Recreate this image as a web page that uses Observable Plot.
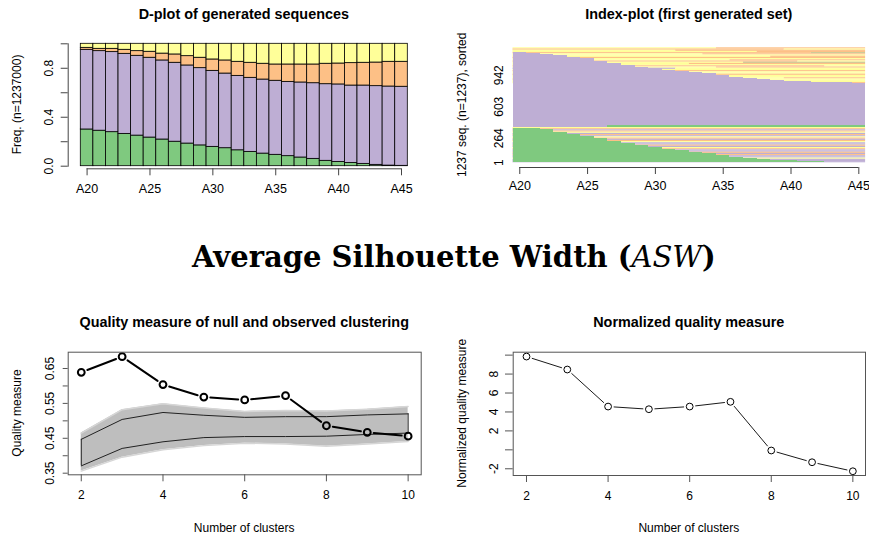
<!DOCTYPE html>
<html><head><meta charset="utf-8">
<script src="https://cdn.jsdelivr.net/npm/d3@7"></script>
<script src="https://cdn.jsdelivr.net/npm/@observablehq/plot@0.6"></script>
<style>
body{margin:0;background:#fff;}
#wrap{position:relative;width:869px;height:538px;overflow:hidden;font-family:"Liberation Sans",Arial,sans-serif;}
#wrap > svg{position:absolute;}
</style></head><body><div id="wrap"></div>
<script>
// ---------- shared ----------
const states = ["A20","A21","A22","A23","A24","A25","A26","A27","A28","A29","A30","A31","A32","A33","A34","A35","A36","A37","A38","A39","A40","A41","A42","A43","A44","A45"];
const tickStates = ["A20","A25","A30","A35","A40","A45"];
const stateColors = {G:"#7FC97F", P:"#BEAED4", O:"#FDC086", Y:"#FFFF99", M:"#C9C58F"};

// ---------- D-plot (state shares per position) ----------
const dGreen  = [0.300,0.290,0.278,0.264,0.250,0.234,0.218,0.200,0.185,0.170,0.158,0.147,0.130,0.117,0.103,0.093,0.082,0.071,0.060,0.044,0.035,0.027,0.019,0.011,0.005,0.003];
const dPurple = [0.651,0.650,0.654,0.654,0.652,0.652,0.646,0.645,0.638,0.631,0.621,0.610,0.608,0.605,0.605,0.605,0.607,0.613,0.618,0.626,0.633,0.632,0.640,0.643,0.646,0.646];
const dOrange = [0.016,0.019,0.027,0.033,0.038,0.049,0.056,0.068,0.076,0.085,0.093,0.107,0.115,0.123,0.129,0.133,0.142,0.147,0.153,0.167,0.171,0.183,0.186,0.193,0.202,0.204];
const dYellow = [0.033,0.041,0.041,0.049,0.060,0.065,0.080,0.087,0.101,0.114,0.128,0.136,0.147,0.155,0.163,0.169,0.169,0.169,0.169,0.163,0.161,0.158,0.155,0.153,0.147,0.147];
const dTicks = [0,0.2,0.4,0.6,0.8,1];
const dTickLabels = ["0.0","","0.4","","0.8",""];

// ---------- Index plot (sorted sequences, counts out of 1237) ----------
const idxTotal = 1237;
const idxTicks = [1,264,603,942];
const idxGreenTop    = [372,366,355,330,304,283,259,230,204,183,165,143,128,112,96,79,61,51,36,28,21,15,11,7,4,4];
const idxPurpleTop   = [1190,1180,1165,1154,1137,1118,1094,1072,1050,1029,1011,997,982,975,957,939,922,907,893,886,878,871,867,865,861,857];
const idxPurpleBottom= [376,376,376,376,376,376,376,400,400,400,400,400,400,400,400,400,400,400,400,400,400,400,400,400,400,400];
const idxLowerMixTop = 380;
const idxUpperMixBottom = 850;
// upper mixed rows (top -> bottom): state before / after the position index where it changes
const idxUpperEarly  = ["Y","O","Y","Y","O","Y","Y","Y","O","Y","Y","O","Y","Y","Y","O","Y","P","Y","O","Y","Y","O","Y","Y","Y","O","Y","Y","Y"];
const idxUpperLate   = ["O","Y","O","O","M","O","Y","O","O","Y","O","Y","M","O","Y","Y","O","Y","Y","O","Y","Y","O","Y","Y","O","Y","Y","Y","O"];
const idxUpperSwitch = [15,20,12,18,22,14,26,19,26,26,16,21,17,13,26,23,15,12,26,26,26,26,26,26,26,20,18,26,26,24];
// lower mixed rows (top -> bottom)
const idxLower       = ["Y","O","P","O","Y","P","O","P","Y","O","P","O","Y","P","P","O","P","Y","O","P","P","O","P","O","P","P","Y","P","P","P"];

// ---------- Quality measures ----------
const clusters = [2,3,4,5,6,7,8,9,10];
const obsASW   = [0.639,0.684,0.604,0.568,0.560,0.572,0.486,0.467,0.456];
const nullHi   = [0.447,0.504,0.524,0.516,0.510,0.512,0.512,0.517,0.520];
const nullLo   = [0.371,0.421,0.440,0.452,0.455,0.455,0.456,0.461,0.465];
const nullMax  = [0.465,0.532,0.549,0.537,0.527,0.530,0.528,0.533,0.541];
const nullMin  = [0.356,0.396,0.417,0.429,0.436,0.434,0.427,0.434,0.441];
const qTicks = [0.35,0.40,0.45,0.50,0.55,0.60,0.65];
const qTickLabels = ["0.35","","0.45","","0.55","","0.65"];
const normASW  = [9.85,8.48,4.57,4.29,4.57,5.07,-0.07,-1.31,-2.26];
const nTicks = [-2,0,2,4,6,8,10];
const nTickLabels = ["-2","","2","4","6","8",""];
const xTicks = [2,4,6,8,10];

const wrap = document.getElementById("wrap");
const FONT = "Liberation Sans, Arial, sans-serif";
const baseStyle = {fontFamily: FONT, fontSize: "12px", background: "transparent", color: "#000", overflow: "visible"};
function place(svg, left, top){ svg.style.left = left+"px"; svg.style.top = top+"px"; wrap.appendChild(svg); }

// ---------- Panel 1: D-plot ----------
const dRows = [];
states.forEach((s,i)=>{
  let c = 0;
  [["G",dGreen],["P",dPurple],["O",dOrange],["Y",dYellow]].forEach(([k,arr])=>{
    dRows.push({i, k, y1:c, y2:c+arr[i]}); c += arr[i];
  });
});
const tickIdx = tickStates.map(s=>states.indexOf(s)+0.5);
const p1 = Plot.plot({
  width: 440, height: 210,
  marginLeft: 67.7, marginRight: 32.7, marginTop: 43.3, marginBottom: 44.3,
  x: {domain: [0, states.length], insetLeft: 12.6, axis: null},
  y: {domain: [0, 1], axis: null},
  style: baseStyle,
  marks: [
    Plot.rect(dRows, {x1: "i", x2: d=>d.i+1, y1: "y1", y2: "y2", fill: d=>stateColors[d.k], stroke: "#000", strokeWidth: 0.8}),
    Plot.frame({anchor: "left", stroke: "#444"}),
    Plot.axisY({ticks: dTicks, tickFormat: d=>dTickLabels[dTicks.indexOf(d)], tickSize: 7, tickRotate: -90, tickPadding: 8, stroke: "#444", fill: "#000", label: null}),
    Plot.ruleY([0], {x1: tickIdx[0], x2: tickIdx[tickIdx.length-1], dy: 2.6, stroke: "#444"}),
    Plot.axisX({ticks: tickIdx, tickFormat: d=>states[d-0.5], tickSize: 7, dy: 2.6, tickPadding: 8, stroke: "#444", fill: "#000", fontSize: 12.5, label: null})
  ]
});
place(p1, 0, 0);

// ---------- Panel 2: Index plot ----------
const nPos = states.length;
const bandRows = [];
const hU = (idxTotal - idxUpperMixBottom)/idxUpperEarly.length;
const hL = idxLowerMixTop/idxLower.length;
idxUpperEarly.forEach((k,b)=>{
  const sw = idxUpperSwitch[b];
  const y1 = idxTotal-(b+1)*hU, y2 = idxTotal-b*hU;
  bandRows.push({x1: 0, x2: sw, k, y1, y2});
  if (sw < nPos) bandRows.push({x1: sw, x2: nPos, k: idxUpperLate[b], y1, y2});
});
idxLower.forEach((k,b)=>bandRows.push({x1: 0, x2: nPos, k, y1: idxLowerMixTop-(b+1)*hL, y2: idxLowerMixTop-b*hL}));
const blockRows = [];
states.forEach((s,i)=>{
  blockRows.push({i, k:"G", y1:0, y2:idxGreenTop[i]});
  if (idxPurpleBottom[i] > idxLowerMixTop) blockRows.push({i, k:"G", y1:idxLowerMixTop, y2:idxPurpleBottom[i]});
  blockRows.push({i, k:"P", y1:idxPurpleBottom[i], y2:idxPurpleTop[i]});
});
const p2 = Plot.plot({
  width: 429, height: 210,
  marginLeft: 72.5, marginRight: 3.9, marginTop: 47.3, marginBottom: 47.7,
  x: {domain: [0, nPos], axis: null},
  y: {domain: [0, idxTotal], axis: null},
  style: baseStyle,
  marks: [
    Plot.rect(bandRows, {x1: "x1", x2: "x2", y1: "y1", y2: "y2", fill: d=>stateColors[d.k]}),
    Plot.rect(blockRows, {x1: "i", x2: d=>d.i+1, y1: "y1", y2: "y2", fill: d=>stateColors[d.k], shapeRendering: "crispEdges"}),
    Plot.axisY({ticks: idxTicks, tickFormat: d=>String(d), tickSize: 0, tickRotate: -90, tickPadding: 10, fill: "#000", label: null}),
    Plot.ruleY([0], {x1: tickIdx[0], x2: tickIdx[tickIdx.length-1], dy: 4.7, stroke: "#444"}),
    Plot.axisX({ticks: tickIdx, tickFormat: d=>states[d-0.5], tickSize: 7, dy: 4.7, tickPadding: 7, stroke: "#444", fill: "#000", fontSize: 12.5, label: null})
  ]
});
place(p2, 440, 0);

// ---------- Panel 3: Quality measure ----------
const qRows = clusters.map((c,i)=>({c, obs: obsASW[i], hi: nullHi[i], lo: nullLo[i], mx: nullMax[i], mn: nullMin[i]}));
const qSegs = clusters.slice(1).map((c,i)=>({x1: clusters[i], y1: obsASW[i], x2: c, y2: obsASW[i+1]}));
const p3 = Plot.plot({
  width: 440, height: 238,
  marginLeft: 67.7, marginRight: 19.3, marginTop: 51.7, marginBottom: 63.7,
  x: {domain: [1.68, 10.32], axis: null},
  y: {domain: [0.3454, 0.6967], axis: null},
  style: baseStyle,
  marks: [
    Plot.areaY(qRows, {x: "c", y1: "mn", y2: "mx", fill: "#BEBEBE"}),
    Plot.line(qRows, {x: "c", y: "mx", stroke: "#D6D6D6", strokeWidth: 1.5}),
    Plot.line(qRows, {x: "c", y: "mn", stroke: "#D6D6D6", strokeWidth: 1.5}),
    Plot.line(qRows, {x: "c", y: "hi", stroke: "#222", strokeWidth: 1}),
    Plot.line(qRows, {x: "c", y: "lo", stroke: "#222", strokeWidth: 1}),
    Plot.ruleX(qRows.slice(0,1), {x: "c", y1: "lo", y2: "hi", stroke: "#222", strokeWidth: 1}),
    Plot.ruleX(qRows.slice(-1), {x: "c", y1: "lo", y2: "hi", stroke: "#222", strokeWidth: 1}),
    Plot.arrow(qSegs, {x1: "x1", y1: "y1", x2: "x2", y2: "y2", bend: 0, headLength: 0, insetStart: 6.5, insetEnd: 6.5, stroke: "#000", strokeWidth: 2}),
    Plot.dot(qRows, {x: "c", y: "obs", r: 3.4, stroke: "#000", strokeWidth: 2, fill: "none"}),
    Plot.frame({stroke: "#555"}),
    Plot.axisY({ticks: qTicks, tickFormat: d=>qTickLabels[qTicks.indexOf(d)], tickSize: 5, tickRotate: -90, tickPadding: 9, stroke: "#555", fill: "#000", fontSize: 12, label: null}),
    Plot.axisX({ticks: xTicks, tickFormat: d=>String(d), tickSize: 7, tickPadding: 9, stroke: "#555", fill: "#000", fontSize: 12, label: null})
  ]
});
place(p3, 0, 300);

// ---------- Panel 4: Normalized quality ----------
const nRows = clusters.map((c,i)=>({c, v: normASW[i]}));
const nSegs = clusters.slice(1).map((c,i)=>({x1: clusters[i], y1: normASW[i], x2: c, y2: normASW[i+1]}));
const p4 = Plot.plot({
  width: 429, height: 238,
  marginLeft: 72.7, marginRight: 4, marginTop: 51.7, marginBottom: 63,
  x: {domain: [1.674, 10.31], axis: null},
  y: {domain: [-2.71, 10.31], axis: null},
  style: baseStyle,
  marks: [
    Plot.arrow(nSegs, {x1: "x1", y1: "y1", x2: "x2", y2: "y2", bend: 0, headLength: 0, insetStart: 6, insetEnd: 6, stroke: "#000", strokeWidth: 0.9}),
    Plot.dot(nRows, {x: "c", y: "v", r: 3.4, stroke: "#000", strokeWidth: 1, fill: "none"}),
    Plot.frame({stroke: "#555"}),
    Plot.axisY({ticks: nTicks, tickFormat: d=>nTickLabels[nTicks.indexOf(d)], tickSize: 7.7, tickRotate: -90, tickPadding: 8, stroke: "#555", fill: "#000", fontSize: 12, label: null}),
    Plot.axisX({ticks: xTicks, tickFormat: d=>String(d), tickSize: 7, tickPadding: 9, stroke: "#555", fill: "#000", fontSize: 12, label: null})
  ]
});
place(p4, 440, 300);

// ---------- text overlay ----------
const NS = "http://www.w3.org/2000/svg";
const ov = document.createElementNS(NS, "svg");
ov.setAttribute("width", 869); ov.setAttribute("height", 538);
ov.style.left = "0px"; ov.style.top = "0px"; ov.style.pointerEvents = "none";
wrap.appendChild(ov);
function txt(str, x, y, opts = {}){
  const t = document.createElementNS(NS, "text");
  t.textContent = str;
  t.setAttribute("text-anchor", opts.anchor || "middle");
  t.setAttribute("font-family", opts.family || FONT);
  t.setAttribute("font-size", opts.size || 12);
  if (opts.bold) t.setAttribute("font-weight", "bold");
  if (opts.rotate) t.setAttribute("transform", `translate(${x},${y}) rotate(-90)`);
  else { t.setAttribute("x", x); t.setAttribute("y", y); }
  ov.appendChild(t);
  return t;
}
txt("D-plot of generated sequences", 243.8, 18.5, {bold: true, size: 14.4});
txt("Index-plot (first generated set)", 688.8, 18.5, {bold: true, size: 14.4});
txt("Freq. (n=1237000)", 21, 104.5, {rotate: true});
txt("1237 seq. (n=1237), sorted", 466, 104.8, {rotate: true});
txt("Quality measure of null and observed clustering", 244.2, 326.7, {bold: true, size: 14.4});
txt("Normalized quality measure", 688.8, 326.7, {bold: true, size: 14.4});
txt("Number of clusters", 244.2, 531.5);
txt("Number of clusters", 688.8, 531.5);
txt("Quality measure", 20.5, 413, {rotate: true});
txt("Normalized quality measure", 466, 413.3, {rotate: true});
// main heading
const h = document.createElementNS(NS, "text");
h.setAttribute("x", 192); h.setAttribute("y", 267.3);
h.setAttribute("font-family", "DejaVu Serif, serif");
h.setAttribute("font-size", 29);
h.setAttribute("font-weight", "bold");
const parts = [["Average Silhouette Width (", false], ["ASW", true], [")", false]];
parts.forEach(([s, it])=>{
  const ts = document.createElementNS(NS, "tspan");
  ts.textContent = s;
  if (it){ ts.setAttribute("font-style", "italic"); ts.setAttribute("font-weight", "normal"); }
  h.appendChild(ts);
});
ov.appendChild(h);
</script></body></html>
